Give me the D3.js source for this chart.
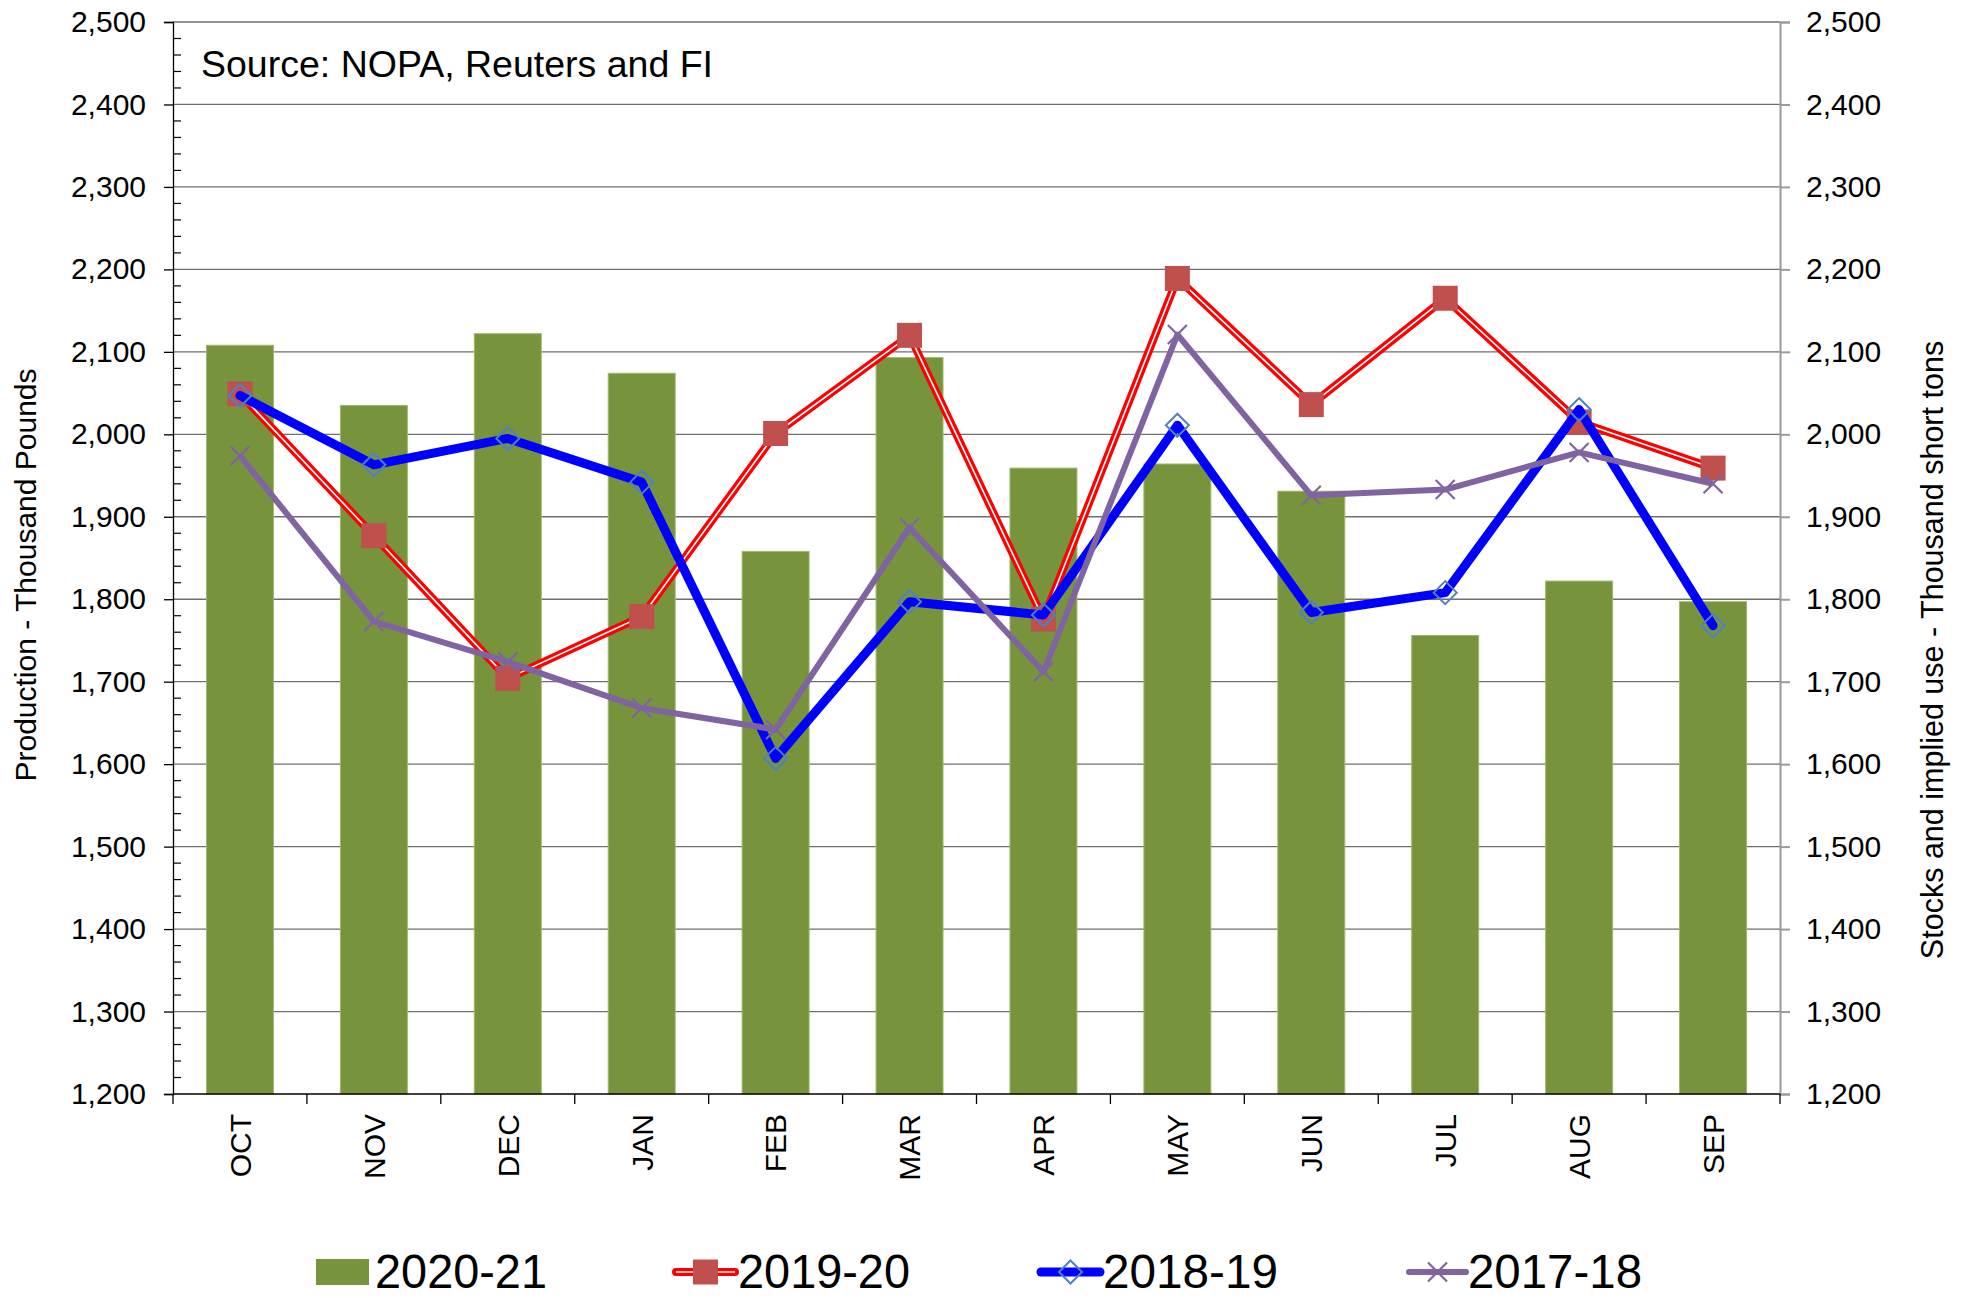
<!DOCTYPE html>
<html>
<head>
<meta charset="utf-8">
<script src="https://cdn.jsdelivr.net/npm/d3@7/dist/d3.min.js"></script>
<style>
  html, body { margin: 0; padding: 0; background: #fff; }
  svg { display: block; font-family: "Liberation Sans", Arial, Helvetica, sans-serif; }
</style>
</head>
<body>
<svg id="chart" width="1961" height="1298"></svg>
<script>
// ---- data ----
const months = ["OCT","NOV","DEC","JAN","FEB","MAR","APR","MAY","JUN","JUL","AUG","SEP"];
const prod2021 = [2108, 2035, 2122, 2074, 1858, 2093, 1959, 1964, 1931, 1756, 1822, 1797];
const prod1920 = [2049, 1877, 1704, 1779, 2001, 2120, 1776, 2189, 2036, 2165, 2015, 1959];
const prod1819 = [2047, 1963, 1995, 1942, 1607, 1797, 1781, 2011, 1784, 1808, 2030, 1768];
const prod1718 = [1974, 1773, 1724, 1668, 1642, 1887, 1712, 2121, 1926, 1933, 1978, 1940];
const yTicks = [1200,1300,1400,1500,1600,1700,1800,1900,2000,2100,2200,2300,2400,2500];
const legendLabels = ["2020-21","2019-20","2018-19","2017-18"];
const sourceText = "Source: NOPA, Reuters and FI";
const leftTitle = "Production - Thousand Pounds";
const rightTitle = "Stocks and implied use - Thousand short tons";

// ---- layout ----
const W = 1961, H = 1298;
const plotL = 173, plotR = 1780, plotT = 22, plotB = 1094;
const svg = d3.select("#chart");

const x = d3.scaleBand().domain(months).range([plotL, plotR]).padding(0);
const y = d3.scaleLinear().domain([1200, 2500]).range([plotB, plotT]);
const fmt = d3.format(",");

// gridlines
svg.append("g").selectAll("line").data(yTicks.filter(v => v > 1200)).join("line")
  .attr("x1", plotL).attr("x2", plotR)
  .attr("y1", d => y(d)).attr("y2", d => y(d))
  .attr("stroke", "#6f6f6f").attr("stroke-width", 1.3);

// bars
svg.append("g").selectAll("rect").data(months).join("rect")
  .attr("x", (d) => x(d) + x.bandwidth() * 0.25)
  .attr("width", x.bandwidth() * 0.5)
  .attr("y", (d, i) => y(prod2021[i]))
  .attr("height", (d, i) => y(1200) - y(prod2021[i]))
  .attr("fill", "#77933C")
  .attr("stroke", "#9DB86A").attr("stroke-width", 1);

// left axis
const leftAxis = d3.axisLeft(y).tickValues(yTicks).tickFormat(fmt).tickSize(9).tickPadding(18);
const gL = svg.append("g").attr("transform", `translate(${plotL},0)`).call(leftAxis);
gL.select(".domain").attr("stroke", "#000").attr("stroke-width", 1.3);
gL.selectAll(".tick line").attr("stroke", "#000").attr("stroke-width", 1.3);
gL.selectAll(".tick text").attr("font-size", 30).attr("fill", "#000")
  .attr("font-family", "Liberation Sans, Arial, sans-serif");
// minor ticks (inside)
const minor = d3.range(1220, 2500, 20).filter(v => v % 100 !== 0);
svg.append("g").selectAll("line").data(minor).join("line")
  .attr("x1", plotL).attr("x2", plotL + 8)
  .attr("y1", d => y(d)).attr("y2", d => y(d))
  .attr("stroke", "#000").attr("stroke-width", 1.2);

// right axis
const rightAxis = d3.axisRight(y).tickValues(yTicks).tickFormat(fmt).tickSize(10).tickPadding(16);
const gR = svg.append("g").attr("transform", `translate(${plotR},0)`).call(rightAxis);
gR.select(".domain").attr("stroke", "#9a9a9a").attr("stroke-width", 2);
gR.selectAll(".tick line").attr("stroke", "#9a9a9a").attr("stroke-width", 2);
gR.selectAll(".tick text").attr("font-size", 30).attr("fill", "#000")
  .attr("font-family", "Liberation Sans, Arial, sans-serif");

// bottom axis
const gB = svg.append("g").attr("transform", `translate(0,${plotB})`);
gB.append("line").attr("x1", plotL).attr("x2", plotR).attr("y1", 0).attr("y2", 0)
  .attr("stroke", "#000").attr("stroke-width", 1.5);
const bounds = months.map(m => x(m)).concat([plotR]);
gB.selectAll("line.tk").data(bounds).join("line").attr("class", "tk")
  .attr("x1", d => d).attr("x2", d => d).attr("y1", 0).attr("y2", 10)
  .attr("stroke", "#000").attr("stroke-width", 1.3);
gB.selectAll("text").data(months).join("text")
  .attr("transform", d => `translate(${x(d) + x.bandwidth() / 2},${20}) rotate(-90)`)
  .attr("text-anchor", "end").attr("dy", "0.36em")
  .attr("font-size", 30).attr("fill", "#000")
  .text(d => d);

// lines
const line = d3.line().x((d, i) => x(months[i]) + x.bandwidth() / 2).y(d => y(d));

// 2019-20 red compound line with squares
const gRed = svg.append("g");
gRed.append("path").datum(prod1920).attr("d", line).attr("fill", "none")
  .attr("stroke", "#FF0000").attr("stroke-width", 8).attr("stroke-linejoin", "round");
gRed.append("path").datum(prod1920).attr("d", line).attr("fill", "none")
  .attr("stroke", "#fff").attr("stroke-width", 1.6).attr("stroke-linejoin", "round");
gRed.selectAll("rect").data(prod1920).join("rect")
  .attr("x", (d, i) => x(months[i]) + x.bandwidth() / 2 - 12.5)
  .attr("y", d => y(d) - 12.5)
  .attr("width", 25).attr("height", 25)
  .attr("fill", "#C0504D");

// 2018-19 blue thick line with diamonds
const gBlue = svg.append("g");
gBlue.append("path").datum(prod1819).attr("d", line).attr("fill", "none")
  .attr("stroke", "#0000FF").attr("stroke-width", 9).attr("stroke-linejoin", "round").attr("stroke-linecap", "round");
gBlue.selectAll("path.mk").data(prod1819).join("path").attr("class", "mk")
  .attr("transform", (d, i) => `translate(${x(months[i]) + x.bandwidth() / 2},${y(d)})`)
  .attr("d", "M0,-11.5L11.5,0L0,11.5L-11.5,0Z")
  .attr("fill", "none").attr("stroke", "#4F81BD").attr("stroke-width", 2);

// 2017-18 purple line with X markers
const gPur = svg.append("g");
gPur.append("path").datum(prod1718).attr("d", line).attr("fill", "none")
  .attr("stroke", "#8064A2").attr("stroke-width", 6).attr("stroke-linejoin", "round");
gPur.selectAll("path.mk").data(prod1718).join("path").attr("class", "mk")
  .attr("transform", (d, i) => `translate(${x(months[i]) + x.bandwidth() / 2},${y(d)})`)
  .attr("d", "M-9.5,-9.5L9.5,9.5M9.5,-9.5L-9.5,9.5")
  .attr("fill", "none").attr("stroke", "#8064A2").attr("stroke-width", 2.2);

// source text
svg.append("text").attr("x", 201).attr("y", 77).attr("font-size", 37.5).attr("fill", "#000").text(sourceText);

// axis titles
svg.append("text").attr("transform", `translate(25,575) rotate(-90)`)
  .attr("text-anchor", "middle").attr("dy", "0.36em").attr("font-size", 30).attr("fill", "#000").text(leftTitle);
svg.append("text").attr("transform", `translate(1932,650) rotate(-90)`)
  .attr("text-anchor", "middle").attr("dy", "0.36em").attr("font-size", 30.5).attr("fill", "#000").text(rightTitle);

// legend
const legY = 1272;
const leg = svg.append("g");
const legItems = [
  { sx: 316, tx: 375, tw: 172 },
  { sx: 676, tx: 738, tw: 172 },
  { sx: 1041, tx: 1103, tw: 175 },
  { sx: 1409, tx: 1468, tw: 174 }
];
// 2020-21 swatch
leg.append("rect").attr("x", legItems[0].sx).attr("y", legY - 13).attr("width", 53).attr("height", 26).attr("fill", "#77933C");
// 2019-20
leg.append("line").attr("x1", legItems[1].sx).attr("x2", legItems[1].sx + 59).attr("y1", legY).attr("y2", legY)
  .attr("stroke", "#FF0000").attr("stroke-width", 8).attr("stroke-linecap", "round");
leg.append("line").attr("x1", legItems[1].sx).attr("x2", legItems[1].sx + 59).attr("y1", legY).attr("y2", legY)
  .attr("stroke", "#fff").attr("stroke-width", 1.6);
leg.append("rect").attr("x", legItems[1].sx + 29.5 - 12.5).attr("y", legY - 12.5).attr("width", 25).attr("height", 25).attr("fill", "#C0504D");
// 2018-19
leg.append("line").attr("x1", legItems[2].sx).attr("x2", legItems[2].sx + 59).attr("y1", legY).attr("y2", legY)
  .attr("stroke", "#0000FF").attr("stroke-width", 9).attr("stroke-linecap", "round");
leg.append("path").attr("transform", `translate(${legItems[2].sx + 29.5},${legY})`)
  .attr("d", "M0,-11.5L11.5,0L0,11.5L-11.5,0Z").attr("fill", "none").attr("stroke", "#4F81BD").attr("stroke-width", 2);
// 2017-18
leg.append("line").attr("x1", legItems[3].sx).attr("x2", legItems[3].sx + 57).attr("y1", legY).attr("y2", legY)
  .attr("stroke", "#8064A2").attr("stroke-width", 6).attr("stroke-linecap", "round");
leg.append("path").attr("transform", `translate(${legItems[3].sx + 28.5},${legY})`)
  .attr("d", "M-9.5,-9.5L9.5,9.5M9.5,-9.5L-9.5,9.5").attr("fill", "none").attr("stroke", "#8064A2").attr("stroke-width", 2.2);

leg.selectAll("text").data(legendLabels).join("text")
  .attr("x", (d, i) => legItems[i].tx).attr("y", legY + 16)
  .attr("font-size", 48).attr("fill", "#000")
  .attr("textLength", (d, i) => legItems[i].tw).attr("lengthAdjust", "spacingAndGlyphs")
  .text(d => d);
</script>
</body>
</html>
